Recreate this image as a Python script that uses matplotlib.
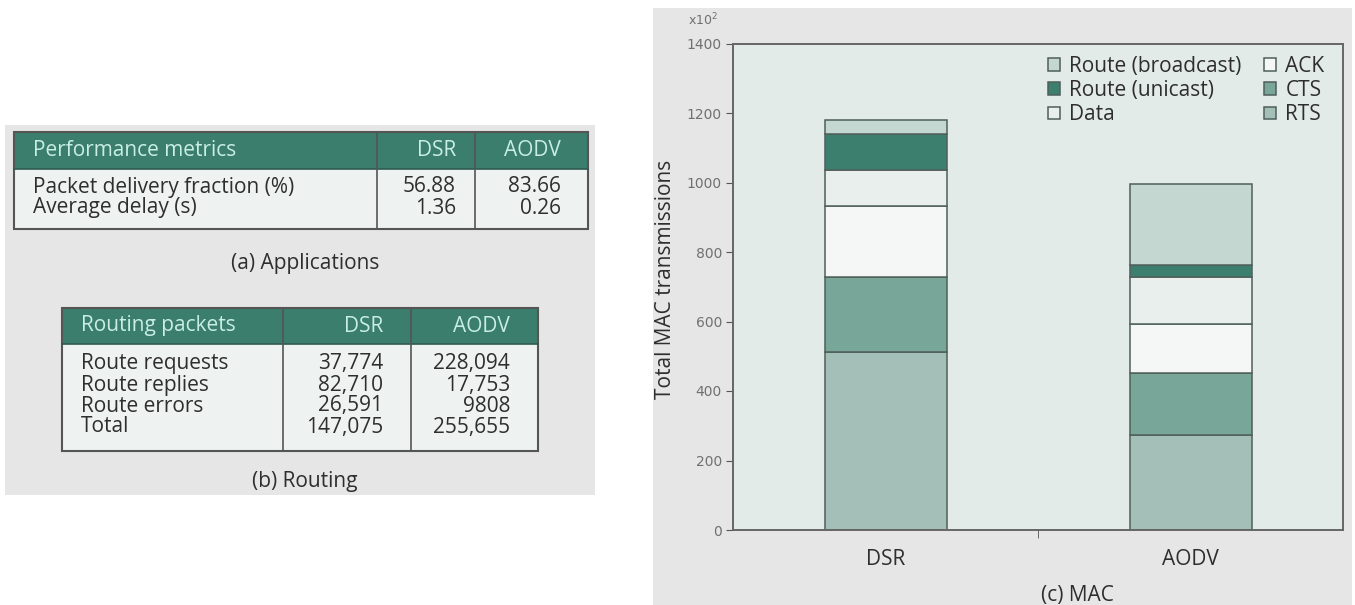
import numpy as np
import matplotlib
matplotlib.use("Agg")
import matplotlib.pyplot as plt
from matplotlib.patches import Rectangle

plt.rcParams['font.family'] = ['Open Sans', 'DejaVu Sans']

# ---------------- data ----------------
app_metrics = ["Packet delivery fraction (%)", "Average delay (s)"]
app_dsr = ["56.88", "1.36"]
app_aodv = ["83.66", "0.26"]
app_header = ["Performance metrics", "DSR", "AODV"]

routing_rows = ["Route requests", "Route replies", "Route errors", "Total"]
routing_dsr = ["37,774", "82,710", "26,591", "147,075"]
routing_aodv = ["228,094", "17,753", "9808", "255,655"]
routing_header = ["Routing packets", "DSR", "AODV"]

protocols = ["DSR", "AODV"]
series_names = ["RTS", "CTS", "ACK", "Data", "Route (unicast)", "Route (broadcast)"]
rts = [512, 273]
cts = [215, 178]
ack = [205, 143]
data_tx = [104, 135]
route_unicast = [105, 35]
route_broadcast = [40, 232]
yticks = [0, 200, 400, 600, 800, 1000, 1200, 1400]

# ---------------- styles ----------------
GRAY_BG = "#e6e6e6"
HDR_GREEN = "#3b7e6d"
HDR_TEXT = "#c8eee5"
BODY_BG = "#eef2f0"
BORDER = "#555555"
TXT = "#2e2e2e"
series_colors = ["#a3bfb7", "#78a698", "#f4f7f6", "#e9efed", "#3c7f6e", "#c4d7d1"]
FS = 15

W, H = 1355, 605
fig = plt.figure(figsize=(W / 100, H / 100), dpi=100)
fig.patch.set_facecolor("white")

# overlay in pixel coordinates for panels/tables
ov = fig.add_axes([0, 0, 1, 1], zorder=0)
ov.set_xlim(0, W)
ov.set_ylim(H, 0)
ov.axis("off")

ov.add_patch(Rectangle((5, 125), 590, 370, facecolor=GRAY_BG, edgecolor="none"))
ov.add_patch(Rectangle((653, 8), 699, 597, facecolor=GRAY_BG, edgecolor="none"))


def draw_table(x0, x1, y0, yh, y1, cols, header, rows, c1, c2, row_y, text_x, right1, right2, fs):
    ov.add_patch(Rectangle((x0, y0), x1 - x0, y1 - y0, facecolor=BODY_BG, edgecolor="none"))
    ov.add_patch(Rectangle((x0, y0), x1 - x0, yh - y0, facecolor=HDR_GREEN, edgecolor="none"))
    ov.add_patch(Rectangle((x0, y0), x1 - x0, y1 - y0, facecolor="none", edgecolor=BORDER, lw=1.5))
    ov.plot([x0, x1], [yh, yh], color="#2f5a50", lw=1.2)
    for cx in cols:
        ov.plot([cx, cx], [y0, y1], color=BORDER, lw=1.2)
    hy = (y0 + yh) / 2
    ov.text(text_x, hy, header[0], color=HDR_TEXT, fontsize=fs, va="center", ha="left")
    ov.text(right1, hy, header[1], color=HDR_TEXT, fontsize=fs, va="center", ha="right")
    ov.text(right2, hy, header[2], color=HDR_TEXT, fontsize=fs, va="center", ha="right")
    for ry, lab, a, b in zip(row_y, rows, c1, c2):
        ov.text(text_x, ry, lab, color=TXT, fontsize=fs, va="center", ha="left")
        ov.text(right1, ry, a, color=TXT, fontsize=fs, va="center", ha="right")
        ov.text(right2, ry, b, color=TXT, fontsize=fs, va="center", ha="right")


# (a) Applications table
draw_table(14, 588, 132, 169, 229, [377, 475], app_header, app_metrics, app_dsr, app_aodv,
           [187, 208], 33, 456, 561, FS)
ov.text(305, 264, "(a) Applications", color=TXT, fontsize=FS, ha="center", va="center")

# (b) Routing table
draw_table(62, 538, 308, 344, 451, [283, 411], routing_header, routing_rows, routing_dsr, routing_aodv,
           [364, 385, 406, 427], 81, 383, 510, FS)
ov.text(305, 481, "(b) Routing", color=TXT, fontsize=FS, ha="center", va="center")

# ---------------- MAC chart ----------------
left, right, top, bottom = 733, 1343, 43.5, 530
ax = fig.add_axes([left / W, (H - bottom) / H, (right - left) / W, (bottom - top) / H], zorder=1)
ax.set_facecolor("#e3ebe8")

x = np.arange(len(protocols))
series = [rts, cts, ack, data_tx, route_unicast, route_broadcast]
base = np.zeros(len(protocols))
handles = {}
for name, vals, col in zip(series_names, series, series_colors):
    b = ax.bar(x, vals, width=0.4, bottom=base, color=col, edgecolor="#4f5f5a", linewidth=1.1, label=name)
    handles[name] = b
    base = base + np.array(vals)

ax.set_xlim(-0.5, 1.5)
ax.set_ylim(0, 1400)
ax.set_yticks(yticks)
ax.set_yticklabels([str(v) for v in yticks], fontsize=10, color="#707070", family="DejaVu Sans")
ax.set_xticks(x)
ax.set_xticklabels(protocols, fontsize=FS, color=TXT)
ax.set_xticks([0.5], minor=True)
ax.tick_params(axis="x", which="major", length=0, pad=14)
ax.tick_params(axis="x", which="minor", length=6, color="#555555", direction="out")
ax.tick_params(axis="y", length=5, color="#555555", direction="out", pad=3)
for s in ax.spines.values():
    s.set_color("#666666")
    s.set_linewidth(1.4)

ax.set_ylabel("Total MAC transmissions", fontsize=FS, color=TXT)
ax.yaxis.set_label_coords(-0.093, 0.515)

order = ["Route (broadcast)", "Route (unicast)", "Data", "ACK", "CTS", "RTS"]
leg = ax.legend([handles[n] for n in order], order, ncol=2, frameon=False, loc="upper right",
                fontsize=FS, handlelength=0.55, handleheight=0.55, handletextpad=0.45,
                columnspacing=1.1, labelspacing=0.15, borderaxespad=0.2,
                bbox_to_anchor=(0.99, 1.0))
for t in leg.get_texts():
    t.set_color(TXT)

fig.text(703 / W, 1 - 20 / H, "x10$^2$", fontsize=9, color="#707070", ha="center", va="center",
         family="DejaVu Sans")
fig.text(1077 / W, 1 - 595 / H, "(c) MAC", fontsize=FS, color=TXT, ha="center", va="center")

fig.savefig("out.png", dpi=100, facecolor=fig.get_facecolor())
